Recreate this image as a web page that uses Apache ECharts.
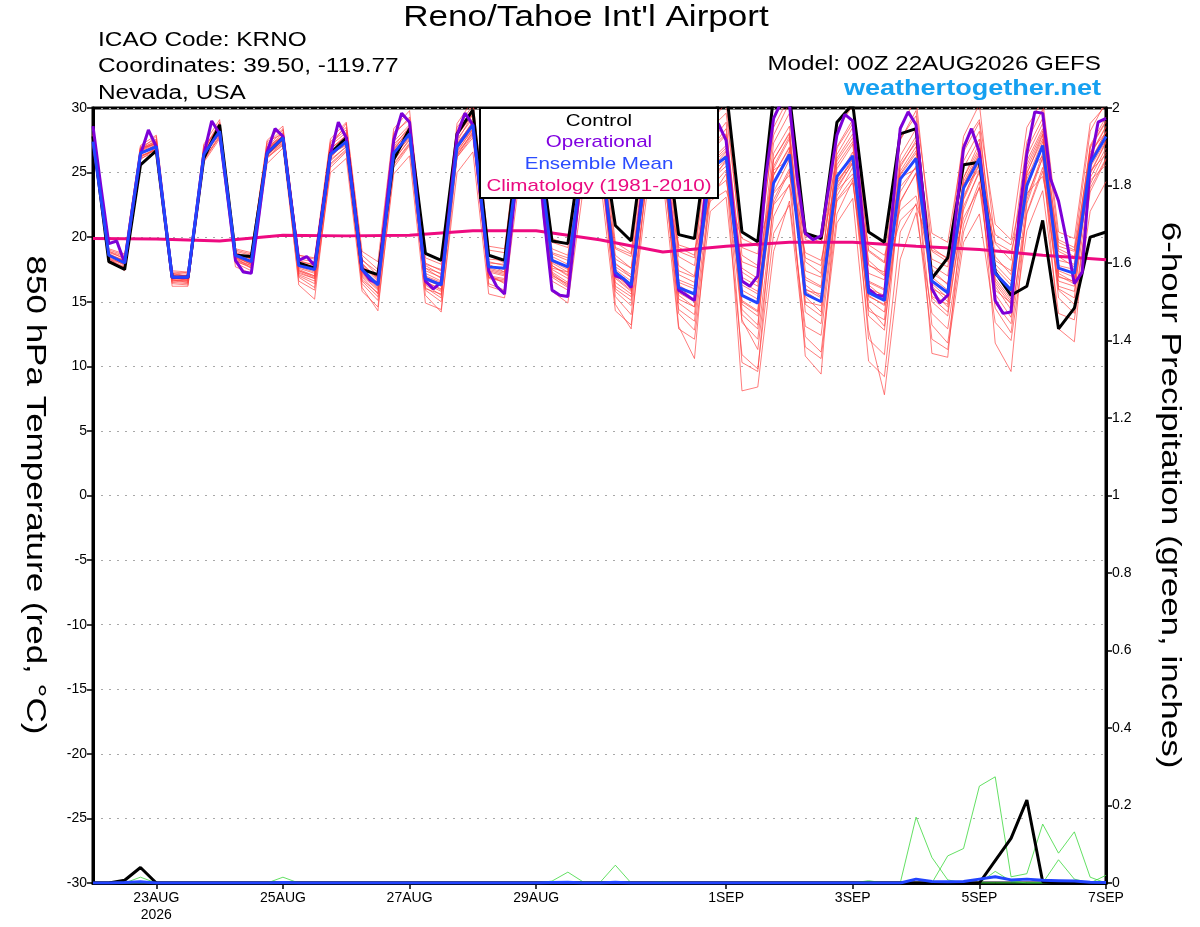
<!DOCTYPE html>
<html>
<head>
<meta charset="utf-8">
<script src="https://cdn.jsdelivr.net/npm/echarts@6/dist/echarts.min.js"></script>
<style>
html,body{margin:0;padding:0;background:#fff;}
#chart{width:1200px;height:927px;}
</style>
</head>
<body>
<div id="chart"></div>
<script>
// ---------------- DATA ----------------
// x axis: hours since 22AUG2026 00Z
const tickHours = [24, 72, 120, 168, 240, 288, 336, 384];
const tickLabels = ['23AUG\n2026', '25AUG', '27AUG', '29AUG', '1SEP', '3SEP', '5SEP', '7SEP'];

// 850 hPa temperature (°C), every 6 h
const controlTemp = [27.8,
  18.1,17.5,25.6,26.7, 16.9,16.9,26.1,28.7, 18.6,18.5,26.5,27.7, 18.0,17.6,26.5,27.7,
  17.5,17.1,26.0,28.4, 18.75,18.2,28.0,29.85, 18.6,18.2,28.5,29.0, 19.7,19.5,28.0,29.0,
  20.9,19.7,29.0,30.0, 20.2,19.9,29.0,31.5, 20.4,19.65,31.0,31.0, 20.3,19.9,28.9,30.3,
  20.4,19.6,28.0,28.4, 16.8,18.4,25.6,25.8, 17.3,15.5,16.2,21.3, 12.9,14.5,20.0,20.4];

const meanTemp = [27.4,
  18.6,18.0,26.5,27.0, 16.9,16.9,26.4,28.2, 18.6,18.1,26.5,27.7, 17.8,17.5,26.4,27.4,
  17.5,16.3,26.5,28.0, 16.8,16.3,27.0,28.7, 17.7,17.6,27.2,28.3, 18.2,17.7,26.5,27.5,
  17.3,16.3,26.0,27.0, 16.1,15.6,25.3,26.2, 15.5,14.9,24.2,26.4, 15.6,15.0,24.7,26.3,
  15.7,15.1,24.5,26.1, 16.6,15.7,23.8,26.1, 17.2,15.9,24.0,27.1, 17.6,17.2,25.7,27.8];

// operational run, every 3 h
const operationalTemp = [
  28.6,23.9,19.5,19.7,18.0,22.3,26.4,28.3,27.0,21.9,
  16.9,16.9,16.9,21.6,26.4,29.0,28.0,23.2,18.2,17.3,
  17.2,21.8,26.6,28.4,27.8,22.9,18.2,18.5,17.8,22.1,
  26.4,28.9,27.7,22.6,17.5,16.7,16.4,22.0,27.5,29.6,
  28.9,22.5,16.6,16.0,16.5,22.0,27.9,29.6,28.7,23.0,
  17.4,16.2,15.6,21.5,27.5,29.0,28.5,21.5,15.9,15.5,
  15.4,21.0,27.0,29.0,28.0,22.0,17.0,16.8,16.1,21.5,
  27.0,29.0,28.0,22.0,15.9,15.5,15.1,21.0,27.5,28.8,
  27.5,21.5,16.6,16.2,17.0,24.6,29.2,30.5,30.3,24.5,
  20.3,19.8,20.1,24.0,27.9,29.5,29.0,23.0,16.0,15.5,
  15.4,22.0,28.4,29.7,28.7,22.5,16.0,14.9,15.5,21.5,
  26.9,28.4,26.6,21.0,15.1,14.1,14.2,21.5,26.5,29.7,
  29.6,24.5,22.8,19.8,16.4,17.3,25.6,28.9,29.2];

// climatology 1981-2010, daily at 00Z
const climatologyTemp = [19.9,19.85,19.7,20.15,20.1,20.15,20.5,20.5,19.8,18.85,19.3,19.6,19.6,19.3,19.05,18.6,18.25];

// ensemble members, every 6 h
const mem01 = [27.8, 18.9,18.3,26.8,27.5, 17.2,17.0,26.9,28.6, 18.9,18.6,27.2,28.4, 18.3,18.1,27.4,28.5, 18.6,17.5,27.9,29.3, 18.0,17.4,28.5,30.2, 19.0,18.8,28.9,29.8, 19.6,19.2,28.3,29.4, 19.1,18.5,28.6,29.9, 18.9,18.4,28.4,29.6, 19.2,18.7,27.9,30.4, 19.8,19.5,26.1,28.0, 18.2,17.1,27.5,29.8, 20.3,19.6,27.2,29.1, 21.0,19.8,28.5,30.6, 20.4,19.9,28.8,30.2];
const mem02 = [27.0, 18.2,17.6,26.1,26.6, 16.4,16.3,25.8,27.6, 17.7,17.2,25.7,26.9, 16.6,15.9,25.0,26.1, 15.8,14.6,24.9,26.3, 14.9,14.4,25.0,26.6, 15.6,15.3,25.1,26.2, 15.8,14.9,24.0,25.1, 14.3,13.2,23.4,24.6, 12.9,12.1,22.0,23.1, 10.9,9.8,20.3,22.5, 11.5,10.6,21.1,23.0, 10.4,9.2,20.4,22.6, 12.1,11.3,19.6,21.8, 13.4,12.0,20.5,23.6, 14.1,13.6,22.0,24.3];
const mem03 = [27.5, 18.5,18.2,26.6,27.3, 16.7,16.5,26.8,28.9, 18.2,17.6,26.1,27.2, 17.2,16.8,25.9,27.0, 16.4,15.1,25.6,27.2, 16.1,15.3,27.8,29.6, 18.6,18.0,27.9,28.8, 17.5,16.8,25.4,26.8, 16.2,15.4,27.1,28.5, 17.8,17.0,26.6,27.9, 13.4,12.1,22.6,25.1, 16.9,16.2,26.4,28.5, 17.8,17.3,27.6,29.4, 15.0,13.9,22.4,25.0, 15.6,13.8,21.9,25.4, 16.2,15.8,24.1,26.6];
const mem04 = [28.1, 19.0,18.6,27.0,27.6, 17.1,17.3,26.5,28.0, 18.4,17.9,26.9,28.3, 17.9,17.4,26.2,27.8, 17.6,16.9,27.4,28.7, 17.8,17.1,26.2,27.9, 16.9,16.5,26.6,27.5, 18.8,18.4,27.7,28.9, 18.0,16.9,25.3,26.1, 15.2,14.6,26.8,28.4, 17.6,16.8,26.0,28.1, 14.2,13.3,23.2,25.4, 15.1,14.2,22.8,24.9, 17.8,17.0,25.9,28.2, 18.5,17.1,26.3,28.8, 18.9,18.3,27.1,29.3];
const mem05 = [27.2, 18.4,17.4,26.3,26.8, 16.6,16.8,26.0,27.9, 18.8,18.3,26.3,27.5, 17.4,16.9,26.8,27.9, 16.9,15.6,26.0,27.5, 17.4,16.9,26.5,28.1, 17.1,16.4,28.0,29.4, 16.9,16.1,26.9,28.2, 15.8,14.7,24.5,25.8, 14.4,13.5,23.8,25.2, 8.1,8.4,18.9,22.8, 13.1,12.4,22.9,24.6, 12.8,7.8,18.3,21.9, 14.1,12.9,21.0,24.3, 14.5,12.6,21.8,25.1, 15.9,14.8,23.5,26.0];
const mem06 = [27.6, 18.7,18.1,26.9,27.2, 17.0,16.6,27.1,28.4, 19.1,18.8,27.4,28.0, 18.6,18.3,27.0,28.8, 18.2,17.3,28.1,29.1, 16.3,15.5,26.3,28.2, 18.3,18.2,26.8,27.7, 19.1,18.6,27.6,28.6, 16.8,15.8,26.9,28.3, 17.1,16.5,24.6,25.8, 16.9,16.2,27.3,29.6, 17.4,16.9,25.6,27.4, 16.5,15.9,25.8,27.8, 18.9,18.1,26.6,28.9, 16.8,15.2,25.0,27.6, 17.8,17.5,26.3,28.5];
const mem07 = [27.3, 18.3,17.9,26.4,27.1, 16.9,17.1,26.2,28.1, 18.0,17.4,26.6,27.6, 17.6,17.2,26.5,27.1, 17.1,16.0,26.7,28.5, 16.5,16.0,26.6,28.4, 17.3,17.0,26.4,27.8, 17.0,16.4,25.8,27.0, 17.5,16.6,26.4,27.6, 16.2,15.1,24.9,26.0, 14.8,13.9,23.5,26.0, 15.4,14.2,27.0,29.1, 16.6,16.0,25.1,27.0, 16.4,15.3,24.6,26.9, 17.9,16.6,25.6,28.2, 18.2,17.9,26.9,28.9];
const mem08 = [27.4, 18.8,18.4,26.7,27.3, 17.3,17.2,26.6,28.3, 18.5,18.2,26.4,27.5, 17.1,16.6,26.1,27.6, 17.9,16.8,26.9,28.2, 17.2,16.6,27.6,29.2, 16.8,16.6,26.1,27.4, 18.5,17.9,26.9,28.0, 18.6,17.6,24.8,25.9, 17.4,16.9,23.4,24.4, 18.1,17.6,22.5,24.0, 18.8,18.2,23.6,24.9, 19.4,18.6,22.1,23.2, 17.2,16.4,21.5,23.8, 19.6,18.9,23.4,24.7, 19.1,18.5,24.4,25.6];
const mem09 = [27.1, 18.1,17.5,26.0,26.9, 16.5,16.4,25.9,27.8, 18.3,17.8,26.8,28.1, 16.9,16.1,25.4,26.6, 16.6,15.4,26.2,27.8, 15.9,15.0,27.1,29.0, 17.0,16.8,27.5,28.8, 18.0,17.3,26.2,27.3, 17.1,16.0,26.6,27.9, 14.9,14.0,25.9,27.1, 15.9,15.2,25.3,27.6, 14.8,13.9,24.1,26.0, 14.3,13.6,24.8,26.5, 15.8,14.6,23.2,25.7, 16.2,14.4,24.5,27.4, 17.0,16.4,25.4,27.5];
const mem10 = [27.9, 18.6,18.0,26.9,27.4, 17.0,17.0,26.7,28.8, 18.7,18.3,26.2,27.1, 18.0,17.7,27.3,28.3, 17.2,16.1,25.7,27.3, 17.0,16.5,27.4,29.5, 18.0,17.9,27.4,28.6, 17.6,17.3,27.1,28.3, 16.5,15.6,25.6,27.0, 16.7,16.2,27.3,28.9, 15.1,14.3,26.5,28.6, 16.0,15.3,24.5,26.6, 17.2,16.7,26.3,28.4, 16.9,15.9,24.6,27.3, 17.6,16.3,26.8,29.2, 16.9,16.6,25.9,28.1];
const mem11 = [27.7, 18.9,18.5,26.5,27.2, 17.1,16.7,26.4,28.5, 18.1,17.7,26.7,27.9, 17.5,17.0,26.6,27.3, 17.4,16.5,26.4,27.9, 17.6,16.8,26.9,28.6, 16.2,15.8,27.0,28.3, 17.8,17.0,25.9,26.9, 17.9,17.1,27.5,28.7, 16.0,15.6,25.6,26.7, 14.4,13.2,24.8,27.0, 15.9,15.6,24.2,26.1, 13.9,12.8,23.5,25.5, 15.4,14.8,24.1,26.4, 17.1,15.7,23.2,26.1, 17.4,16.9,25.0,27.4];
const mem12 = [27.3, 18.0,17.7,26.2,26.9, 16.2,16.2,26.3,28.0, 18.4,17.6,26.5,27.4, 16.3,15.2,25.7,26.8, 16.1,14.3,25.4,27.1, 15.5,14.2,26.2,27.7, 16.4,15.9,26.5,27.6, 16.6,15.9,25.5,26.9, 14.8,12.9,25.0,26.5, 13.1,10.6,24.1,26.0, 10.3,9.6,22.9,25.3, 10.8,9.4,23.7,25.8, 12.1,10.9,23.9,25.4, 11.0,10.7,22.9,25.6, 11.8,9.6,22.6,26.2, 12.9,11.9,24.6,26.9];
const mem13 = [28.0, 18.7,18.2,26.8,27.8, 16.8,16.9,26.8,28.1, 18.5,17.9,27.0,27.8, 17.8,17.6,26.9,27.7, 18.0,16.7,27.2,28.4, 16.7,16.2,26.8,28.9, 17.5,17.2,26.7,28.1, 17.3,16.5,26.6,27.9, 17.7,16.9,26.2,27.2, 16.5,16.0,25.1,26.4, 16.3,15.6,24.1,26.7, 16.7,16.1,25.9,27.7, 16.0,15.5,24.9,26.7, 17.5,16.3,24.0,26.5, 18.2,17.4,24.9,27.9, 18.5,17.7,26.4,28.6];
const mem14 = [27.6, 18.5,17.8,26.6,27.0, 16.7,16.6,26.5,28.2, 18.6,18.0,26.9,27.6, 17.7,17.3,26.4,27.2, 17.8,16.6,26.3,27.7, 16.9,16.4,27.3,28.8, 17.8,17.5,27.6,28.5, 18.3,17.6,26.7,27.6, 16.0,15.1,25.8,27.4, 15.7,15.0,24.4,25.5, 16.5,15.8,24.8,26.9, 15.0,14.7,23.9,25.7, 16.3,15.3,24.5,26.2, 16.0,15.4,23.0,26.0, 15.9,14.9,25.3,28.0, 16.6,16.2,25.8,28.2];
const mem15 = [27.5, 18.4,17.9,26.7,27.4, 16.8,16.7,26.6,28.6, 18.2,17.8,26.4,27.3, 18.1,17.9,27.1,28.1, 18.3,17.0,27.0,28.6, 17.9,17.5,27.9,29.5, 17.9,17.3,27.3,28.9, 17.2,16.3,26.1,27.7, 18.3,17.6,27.9,29.1, 18.5,17.8,26.9,28.0, 17.3,16.5,25.2,26.0, 18.4,17.8,26.9,28.8, 19.0,18.1,24.6,25.3, 18.3,17.7,25.4,27.6, 16.4,14.8,25.9,28.4, 19.3,18.9,26.6,28.1];
const mem16 = [27.2, 18.3,17.7,26.3,26.7, 16.6,16.5,26.1,27.7, 18.4,18.0,26.2,27.3, 17.0,16.4,25.6,26.7, 16.7,15.7,25.9,27.6, 16.0,15.6,26.4,28.0, 16.9,16.7,26.9,28.0, 17.1,16.2,25.1,26.3, 15.4,14.0,24.6,26.2, 14.1,12.8,23.0,24.9, 13.6,11.3,21.6,24.1, 12.3,11.1,21.8,24.4, 14.6,13.1,22.7,25.0, 13.2,11.8,20.4,23.9, 14.9,13.3,22.9,26.5, 15.3,14.1,23.8,26.1];
const mem17 = [27.6, 18.6,18.2,26.8,27.3, 17.2,16.9,26.5,28.4, 18.8,18.4,26.6,27.8, 18.2,17.8,26.8,27.9, 17.7,16.9,26.6,28.1, 17.6,17.2,26.9,28.4, 18.1,17.8,26.5,27.5, 18.7,18.2,25.2,26.1, 19.2,18.7,24.1,24.9, 19.4,19.0,22.8,23.6, 19.9,19.3,23.4,24.8, 20.1,19.6,24.4,25.8, 17.9,17.0,21.3,22.5, 19.0,18.4,23.9,25.2, 20.2,19.4,24.8,26.3, 19.6,19.0,25.1,26.4];
const mem18 = [27.9, 19.1,18.7,27.1,27.9, 17.4,17.3,27.2,29.1, 19.0,18.7,27.5,28.6, 18.6,18.4,27.6,28.9, 18.9,18.1,28.4,29.8, 18.4,17.9,28.8,30.6, 19.3,19.1,29.2,30.3, 19.9,19.4,28.7,30.0, 19.6,18.8,29.0,30.5, 19.2,18.6,28.9,30.4, 18.6,17.8,28.5,30.9, 18.1,17.2,28.3,30.2, 18.9,18.0,28.6,30.7, 19.2,18.3,27.8,30.3, 19.5,18.2,27.4,29.9, 19.8,19.2,28.2,30.5];
const mem19 = [27.4, 18.7,18.0,26.4,27.2, 16.9,16.8,26.7,28.3, 18.6,18.1,26.8,27.9, 17.4,17.0,26.2,27.4, 17.3,16.2,26.8,28.3, 16.6,15.9,27.2,28.9, 17.6,17.3,27.8,28.7, 18.1,17.5,26.3,27.4, 16.9,15.9,25.4,26.8, 15.5,14.6,25.2,26.6, 15.0,14.2,26.0,28.0, 16.3,15.4,22.8,24.2, 15.5,14.7,25.4,27.5, 15.3,14.2,22.1,25.2, 17.3,16.0,24.1,27.0, 16.0,15.3,27.0,29.0];
const mem20 = [27.3, 18.2,17.6,26.2,26.8, 16.7,16.6,26.4,28.0, 18.5,17.9,26.7,27.7, 17.3,16.8,26.0,27.0, 17.0,15.9,26.6,28.0, 16.4,15.8,26.7,28.3, 17.4,17.1,26.9,28.0, 17.8,17.1,26.8,27.9, 17.0,16.2,26.1,27.3, 16.3,15.5,25.7,26.9, 14.0,12.9,25.5,27.8, 15.8,15.0,25.3,27.2, 15.4,14.8,25.6,27.3, 16.2,15.0,24.3,26.7, 16.6,15.0,23.8,27.0, 17.2,16.5,24.9,27.3];
const ensembleMembers = [mem01, mem02, mem03, mem04, mem05, mem06, mem07, mem08, mem09, mem10,
  mem11, mem12, mem13, mem14, mem15, mem16, mem17, mem18, mem19, mem20];

// 6-hour precipitation (inches), every 6 h
const controlPrecip = [
  0,0,0.007,0.04,0,0,0,0,0,0,
  0,0,0,0,0,0,0,0,0,0,
  0,0,0,0,0,0,0,0,0,0,
  0,0,0,0,0,0,0,0,0,0,
  0,0,0,0,0,0,0,0,0,0,
  0,0,0,0,0,0,0,0.058,0.115,0.214,
  0.003,0,0,0,0];
const meanPrecip = [
  0,0,0.001,0.003,0,0,0,0,0,0,
  0,0,0.001,0,0,0,0,0,0,0,
  0,0,0,0,0,0,0,0,0,0.001,
  0.002,0,0,0.002,0,0,0,0,0,0,
  0,0,0,0,0,0,0,0,0,0,
  0,0,0.01,0.004,0.003,0.004,0.01,0.016,0.008,0.01,
  0.007,0.006,0.005,0.002,0.001];
const precipMemberA = [
  0,0,0,0.015,0,0,0,0,0,0,
  0,0,0,0,0,0,0,0,0,0,
  0,0,0,0,0,0,0,0,0,0,
  0,0,0,0,0,0,0,0,0,0,
  0,0,0,0,0,0,0,0,0,0,
  0,0,0.17,0.066,0.008,0,0,0,0,0,
  0,0,0,0,0];
const precipMemberB = [
  0,0,0,0,0,0,0,0,0,0,
  0,0,0,0,0,0,0,0,0,0,
  0,0,0,0,0,0,0,0,0,0,
  0,0,0,0,0,0,0,0,0,0,
  0,0,0,0,0,0,0,0,0,0,
  0,0,0,0,0.07,0.089,0.25,0.274,0.016,0.024,
  0.152,0.077,0.132,0.015,0];
const precipMemberC = [
  0,0,0,0,0,0,0,0,0,0,
  0,0,0.015,0,0,0,0,0,0,0,
  0,0,0,0,0,0,0,0,0,0,
  0,0,0,0,0,0,0,0,0,0,
  0,0,0,0,0,0,0,0,0,0,
  0,0,0,0,0,0,0,0.03,0.005,0,
  0,0.06,0.01,0,0.02];
const precipMemberD = [
  0,0,0,0,0,0,0,0,0,0,
  0,0,0,0,0,0,0,0,0,0,
  0,0,0,0,0,0,0,0,0,0.005,
  0.028,0.002,0,0.046,0,0,0.004,0,0,0,
  0,0,0,0,0,0,0,0,0,0.006,
  0,0,0,0,0,0,0,0,0,0,
  0,0,0,0,0];
const precipMembers = [precipMemberA, precipMemberB, precipMemberC, precipMemberD];

// ---------------- CHART ----------------
const FONT = '"Liberation Sans", Arial, Helvetica, sans-serif';
const toPairs = (arr, stepHours) => arr.map((v, i) => [i * stepHours, v]);
const lineSeries = (name, data, color, width, yAxisIndex, z, opacity) => ({
  name, type: 'line', data, yAxisIndex, z,
  symbol: 'none', silent: true, animation: false, clip: true,
  lineStyle: { color, width, opacity: opacity == null ? 1 : opacity }
});

const series = [];
ensembleMembers.forEach((m, k) => series.push(lineSeries('member' + (k + 1), toPairs(m, 6), '#ff4040', 0.75, 0, 2, 0.9)));
precipMembers.forEach((m, k) => series.push(lineSeries('precipMember' + (k + 1), toPairs(m, 6), '#3cd83c', 0.8, 1, 3)));
series.push(lineSeries('Climatology (1981-2010)', toPairs(climatologyTemp, 24), '#ee0a80', 3, 0, 4));
series.push(lineSeries('Control', toPairs(controlTemp, 6), '#000000', 3, 0, 5));
series.push(lineSeries('Operational', toPairs(operationalTemp, 3), '#7d00d8', 3, 0, 6));
series.push(lineSeries('Ensemble Mean', toPairs(meanTemp, 6), '#2244ff', 3, 0, 7));
series.push(lineSeries('Control precip', toPairs(controlPrecip, 6), '#000000', 3, 1, 5));
series.push(lineSeries('Mean precip', toPairs(meanPrecip, 6), '#2244ff', 3, 1, 7));

// text helper; sx stretches text horizontally (along its baseline)
const txt = (text, x, y, size, align, sx, opts) => Object.assign({
  type: 'text', x, y, z: 100, scaleX: sx, scaleY: 1,
  style: Object.assign({
    text, fontSize: size, fontFamily: FONT, fill: '#000',
    align, verticalAlign: 'middle', textAlign: align, textVerticalAlign: 'middle'
  }, (opts && opts.style) || {})
}, (opts && opts.el) || {});

const chart = echarts.init(document.getElementById('chart'), null, { renderer: 'canvas' });
chart.setOption({
  backgroundColor: '#ffffff',
  animation: false,
  grid: { left: 93, right: 94, top: 108, bottom: 44, show: true, borderColor: '#000', borderWidth: 3, backgroundColor: 'transparent' },
  xAxis: {
    type: 'value', min: 0, max: 384,
    axisLine: { show: true, onZero: false, lineStyle: { color: '#000', width: 3 } },
    axisTick: { show: true, customValues: tickHours, length: 6, inside: false, lineStyle: { color: '#000', width: 1.5 } },
    axisLabel: {
      customValues: tickHours, color: '#000', fontSize: 14, fontFamily: FONT, margin: 7, lineHeight: 17,
      formatter: v => { const k = tickHours.indexOf(Math.round(v)); return k >= 0 ? tickLabels[k] : ''; }
    },
    splitLine: { show: false }
  },
  yAxis: [
    {
      type: 'value', min: -30, max: 30, interval: 5, position: 'left',
      axisLine: { show: true, onZero: false, lineStyle: { color: '#000', width: 3 } },
      axisTick: { show: true, length: 6, lineStyle: { color: '#000', width: 1.5 } },
      axisLabel: { color: '#000', fontSize: 14, fontFamily: FONT, margin: 6 },
      splitLine: { show: true, lineStyle: { color: '#a8a8a8', type: [2, 6], width: 1 } }
    },
    {
      type: 'value', min: 0, max: 2, interval: 0.2, position: 'right',
      axisLine: { show: true, onZero: false, lineStyle: { color: '#000', width: 3 } },
      axisTick: { show: true, length: 6, lineStyle: { color: '#000', width: 1.5 } },
      axisLabel: { color: '#000', fontSize: 14, fontFamily: FONT, margin: 6 },
      splitLine: { show: false }
    }
  ],
  series,
  graphic: [
    txt("Reno/Tahoe Int'l Airport", 586, 18, 29, 'center', 1.21),
    txt('ICAO Code: KRNO', 98, 40, 20, 'left', 1.22),
    txt('Coordinates: 39.50, -119.77', 98, 66, 20, 'left', 1.22),
    txt('Nevada, USA', 98, 93, 20, 'left', 1.22),
    txt('Model: 00Z 22AUG2026 GEFS', 1101, 64, 20, 'right', 1.21),
    txt('weathertogether.net', 1101, 89, 22, 'right', 1.23, { style: { fill: '#16a0f0', fontWeight: 'bold' } }),
    txt('850 hPa Temperature (red, \u00B0C)', 35, 495, 28, 'center', 1.25, { el: { rotation: -Math.PI / 2 } }),
    txt('6-hour Precipitation (green, inches)', 1170, 495, 28, 'center', 1.25, { el: { rotation: -Math.PI / 2 } }),
    {
      type: 'rect', z: 99,
      shape: { x: 480, y: 108, width: 238, height: 90 },
      style: { fill: '#ffffff', stroke: '#000000', lineWidth: 2 }
    },
    txt('Control', 599, 121, 17, 'center', 1.21),
    txt('Operational', 599, 142, 17, 'center', 1.21, { style: { fill: '#8000e0' } }),
    txt('Ensemble Mean', 599, 164, 17, 'center', 1.21, { style: { fill: '#2b4cff' } }),
    txt('Climatology (1981-2010)', 599, 186, 17, 'center', 1.21, { style: { fill: '#ea0a80' } })
  ]
});
</script>
</body>
</html>
